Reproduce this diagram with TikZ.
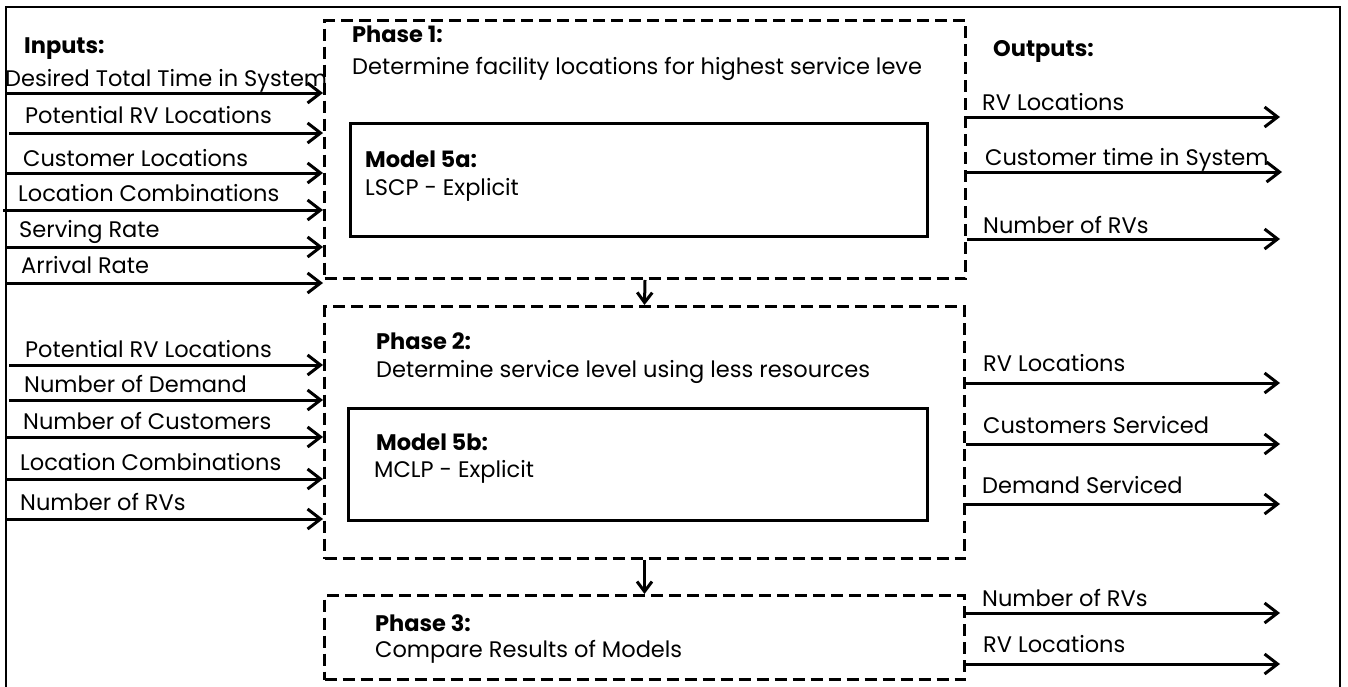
\documentclass[tikz,border=0pt]{standalone}
\usepackage{fontspec}
\setmainfont{Poppins}
\usetikzlibrary{arrows.meta}
\begin{document}
\begin{tikzpicture}[x=1pt,y=-1pt,
  lbl/.style={anchor=base west, inner sep=0pt, font=\fontsize{22.5}{26}\selectfont},
  ttl/.style={anchor=base west, inner sep=0pt, font=\fontsize{22.5}{26}\selectfont\bfseries},
  phasebox/.style={draw, line width=3pt, dash pattern=on 12pt off 6pt, anchor=north west, inner sep=0pt},
  modelbox/.style={draw, line width=3.2pt, anchor=north west, inner sep=0pt},
  flow/.style={line width=3pt, -{Straight Barb[length=13pt,width=20pt,line width=3pt]}},
  link/.style={line width=3pt, -{Straight Barb[length=10pt,width=15pt,line width=3pt]}},
]
\useasboundingbox (0,0) rectangle (1348,686);
\draw[line width=2pt] (6,690) -- (6,7) -- (1340,7) -- (1340,690);

% phases
\node[phasebox, minimum width=641pt, minimum height=258pt] (p1) at (323,19) {};
\node[phasebox, minimum width=640pt, minimum height=252pt] (p2) at (323,305) {};
\node[phasebox, minimum width=640pt, minimum height=84pt] (p3) at (323,594) {};
\node[modelbox, minimum width=577pt, minimum height=113pt] (m1) at (349,122) {};
\node[modelbox, minimum width=579pt, minimum height=112pt] (m2) at (347,407) {};

\draw[link] (p1.south) -- (p2.north);
\draw[link] (p2.south) -- (p3.north);

% texts in phases
\node[ttl] (p1t) at (352,42) {Phase 1:};
\node[lbl] (p1d) at (352,74) {Determine facility locations for highest service leve};
\node[ttl] (m1t) at (365,167) {Model 5a:};
\node[lbl] (m1d) at (365,195) {LSCP - Explicit};
\node[ttl] (p2t) at (376,349) {Phase 2:};
\node[lbl] (p2d) at (376,377) {Determine service level using less resources};
\node[ttl] (m2t) at (376,450) {Model 5b:};
\node[lbl] (m2d) at (374,477) {MCLP - Explicit};
\node[ttl] (p3t) at (375,631) {Phase 3:};
\node[lbl] (p3d) at (375,657) {Compare Results of Models};

\node[ttl] (inh) at (24,53) {Inputs:};
\node[ttl] (outh) at (993,56) {Outputs:};

% inputs phase 1
\foreach \n/\sx/\ly/\tx/\ty/\txt in {
  a1/6/93/5/86/Desired Total Time in System,
  a2/9/133/25/123/Potential RV Locations,
  a3/6/173/23/166/Customer Locations,
  a4/3/210/18/201/Location Combinations,
  a5/6/247/19/237/Serving Rate,
  a6/6/283/21/273/Arrival Rate}{
  \coordinate (\n) at (\sx,\ly);
  \node[lbl] (\n t) at (\tx,\ty) {\txt};
  \draw[flow] (\n) -- (\n -| p1.west);
}
% inputs phase 2
\foreach \n/\sx/\ly/\tx/\ty/\txt in {
  b1/9/365/25/357/Potential RV Locations,
  b2/9/400/24/392/Number of Demand,
  b3/6/437/23/429/Number of Customers,
  b4/6/479/20/470/Location Combinations,
  b5/6/519/20/510/Number of RVs}{
  \coordinate (\n) at (\sx,\ly);
  \node[lbl] (\n t) at (\tx,\ty) {\txt};
  \draw[flow] (\n) -- (\n -| p2.west);
}
% outputs
\foreach \n/\p/\ex/\ly/\tx/\ty/\txt in {
  c1/p1/1280/117/982/110/RV Locations,
  c2/p1/1282/172/985/165/Customer time in System,
  c3/p1/1280/239/983/233/Number of RVs,
  d1/p2/1280/383/983/371/RV Locations,
  d2/p2/1280/444/983/433/Customers Serviced,
  d3/p2/1280/504/982/493/Demand Serviced,
  e1/p3/1280/613/982/606/Number of RVs,
  e2/p3/1280/664/983/652/RV Locations}{
  \coordinate (\n) at (\ex,\ly);
  \node[lbl] (\n t) at (\tx,\ty) {\txt};
  \draw[flow] (\n -| \p.east) -- (\n);
}
\end{tikzpicture}
\end{document}
